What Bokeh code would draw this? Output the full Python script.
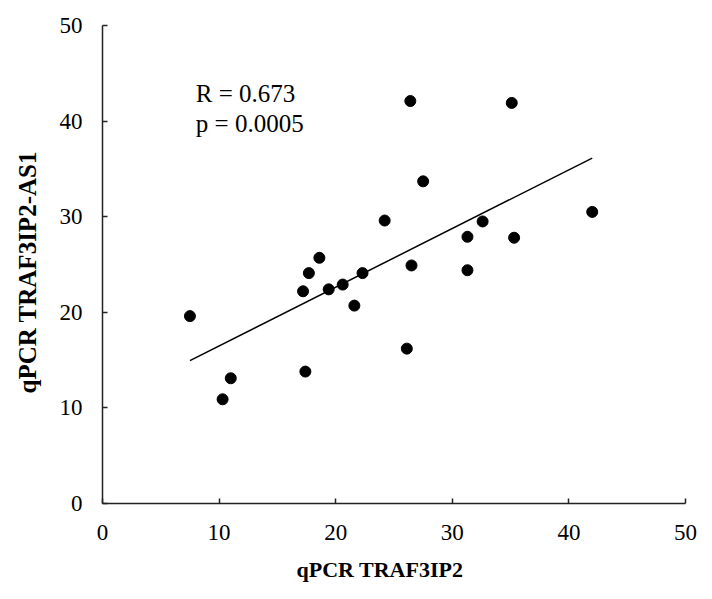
import numpy as np
from bokeh.plotting import figure
from bokeh.models import Range1d, FixedTicker, Title
from bokeh.core.properties import value
from bokeh.embed import file_html
from bokeh.resources import INLINE

# Data
traf3ip2 = [7.5, 10.3, 11.0, 17.2, 17.7, 18.6, 17.4, 19.4, 20.6, 21.6, 22.3,
            24.2, 26.4, 35.1, 27.5, 32.6, 31.3, 35.3, 42.0, 26.5, 31.3, 26.1]
traf3ip2_as1 = [19.6, 10.9, 13.1, 22.2, 24.1, 25.7, 13.8, 22.4, 22.9, 20.7, 24.1,
                29.6, 42.1, 41.9, 33.7, 29.5, 27.9, 27.8, 30.5, 24.9, 24.4, 16.2]
ticks = [0, 10, 20, 30, 40, 50]
stats_text = ["R = 0.673", "p = 0.0005"]
stats_x = [8.0, 8.0]
stats_y = [42.9, 39.8]
x_title = "qPCR TRAF3IP2"
y_title = "qPCR TRAF3IP2-AS1"

FONT = "Liberation Serif"

p = figure(width=708, height=599, output_backend="svg", toolbar_location=None,
           x_range=Range1d(0, 50), y_range=Range1d(0, 50),
           min_border_left=102, min_border_top=25, min_border_right=23, min_border_bottom=96)
p.outline_line_color = None
p.xgrid.visible = False
p.ygrid.visible = False

# regression line
slope, intercept = np.polyfit(traf3ip2, traf3ip2_as1, 1)
fx = [min(traf3ip2), max(traf3ip2)]
fy = [slope * v + intercept for v in fx]
p.line(fx, fy, line_color="black", line_width=1.5)

p.scatter(traf3ip2, traf3ip2_as1, size=11, marker="circle",
          fill_color="black", line_color="black")

p.text(x=stats_x, y=stats_y, text=stats_text, text_font=value(FONT),
       text_font_size="25px", text_color="black", text_baseline="alphabetic")

for ax in (p.xaxis[0], p.yaxis[0]):
    ax.ticker = FixedTicker(ticks=ticks)
    ax.minor_tick_line_color = None
    ax.major_tick_in = 5
    ax.major_tick_out = 0
    ax.axis_line_color = "#222222"
    ax.axis_line_width = 1.5
    ax.major_tick_line_color = "#222222"
    ax.major_tick_line_width = 1.5
    ax.major_label_text_font = FONT
    ax.major_label_text_font_size = "23px"
    ax.major_label_text_color = "black"

p.xaxis.major_label_standoff = 21
p.yaxis.major_label_standoff = 20

xt = Title(text=x_title, align="left", offset=194, standoff=28,
           vertical_align="top",
           text_font=FONT, text_font_size="22px", text_font_style="bold",
           text_color="black")
p.add_layout(xt, "below")
yt = Title(text=y_title, align="left", offset=110, standoff=27,
           vertical_align="top",
           text_font=FONT, text_font_size="25px", text_font_style="bold",
           text_color="black")
p.add_layout(yt, "left")

open("out.html", "w").write(file_html(p, INLINE))
